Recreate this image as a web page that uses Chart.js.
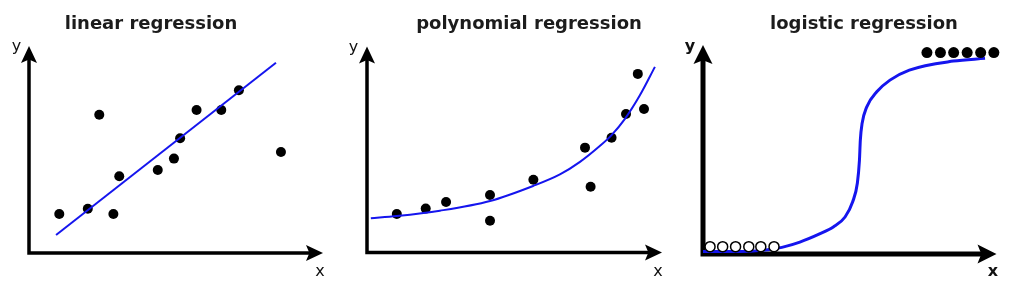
<!DOCTYPE html>
<html><head><meta charset="utf-8">
<script src="https://cdn.jsdelivr.net/npm/chart.js@4.4.1/dist/chart.umd.min.js"></script>
<style>
html,body{margin:0;padding:0;background:#fff;width:1017px;height:287px;overflow:hidden;position:relative}
canvas{position:absolute;top:0}
</style></head><body>
<canvas id="c1"></canvas><canvas id="c2"></canvas><canvas id="c3"></canvas>
<script>
// ---- titles ----
const titles = ['linear regression', 'polynomial regression', 'logistic regression'];
const axisLabels = ['x', 'y'];

// ---- linear regression ----
const linX = [1.03, 2.00, 2.39, 2.87, 3.07, 4.38, 4.93, 5.14, 5.70, 6.54, 7.14, 8.57];
const linY = [1.88, 2.14, 6.68, 1.88, 3.71, 4.01, 4.56, 5.54, 6.91, 6.91, 7.86, 4.88];
const linFitX = [0.92, 8.40];
const linFitY = [0.87, 9.19];

// ---- polynomial regression ----
const polyX = [1.01, 1.99, 2.68, 4.17, 4.17, 5.64, 7.39, 7.58, 8.29, 8.78, 9.18, 9.39];
const polyY = [1.87, 2.13, 2.45, 2.79, 1.54, 3.53, 5.09, 3.19, 5.57, 6.72, 8.67, 6.97];
const polyFitX = [0.13, 1.01, 2.47, 4.17, 5.63, 6.54, 7.22, 7.90, 8.29, 8.75, 9.25, 9.76];
const polyFitY = [1.66, 1.77, 2.03, 2.50, 3.23, 3.79, 4.40, 5.18, 5.70, 6.50, 7.63, 9.01];

// ---- logistic regression ----
const negX = [0.24, 0.67, 1.11, 1.56, 1.97, 2.42];
const negY = [0.35, 0.35, 0.35, 0.35, 0.35, 0.35];
const posX = [7.63, 8.09, 8.54, 9.00, 9.46, 9.91];
const posY = [9.64, 9.64, 9.64, 9.64, 9.64, 9.64];
const sigX = [0.00, 1.26, 2.51, 3.30, 3.99, 4.44, 4.84, 5.10, 5.26, 5.33, 5.36, 5.42, 5.58, 5.92, 6.37, 7.03, 8.53, 9.61];
const sigY = [0.12, 0.12, 0.27, 0.57, 0.97, 1.29, 1.77, 2.50, 3.40, 4.48, 5.44, 6.24, 7.04, 7.76, 8.32, 8.80, 9.23, 9.36];

const pts = (xs, ys) => xs.map((x, i) => ({x, y: ys[i]}));

const H = 287;
const BLUE = '#1515ee';

const arrowAxes = {
  id: 'arrowAxes',
  beforeDatasetsDraw(chart, args, o) {
    const {ctx, scales: {x, y}} = chart;
    const ox = x.getPixelForValue(0), oy = y.getPixelForValue(0);
    const tx = x.getPixelForValue(10), ty = y.getPixelForValue(10);
    const al = o.arrowLen, aw = o.arrowHalf;
    ctx.save();
    ctx.strokeStyle = '#000'; ctx.fillStyle = '#000';
    ctx.lineWidth = o.width; ctx.lineJoin = 'miter'; ctx.lineCap = 'butt';
    ctx.beginPath();
    ctx.moveTo(ox, ty + al * 0.7);
    ctx.lineTo(ox, oy);
    ctx.lineTo(tx - al * 0.7, oy);
    ctx.stroke();
    ctx.beginPath();
    ctx.moveTo(ox, ty); ctx.lineTo(ox + aw, ty + al); ctx.lineTo(ox, ty + al * 0.8); ctx.lineTo(ox - aw, ty + al);
    ctx.closePath(); ctx.fill();
    ctx.beginPath();
    ctx.moveTo(tx, oy); ctx.lineTo(tx - al, oy - aw); ctx.lineTo(tx - al * 0.8, oy); ctx.lineTo(tx - al, oy + aw);
    ctx.closePath(); ctx.fill();
    ctx.font = o.labelFont; ctx.fillStyle = '#111';
    ctx.textAlign = 'center'; ctx.textBaseline = 'alphabetic';
    ctx.fillText(axisLabels[1], ox + o.yDx, ty + o.yDy);
    ctx.fillText(axisLabels[0], tx + o.xDx, oy + o.xDy);
    ctx.restore();
  }
};

function makeChart(id, p, datasets) {
  const cv = document.getElementById(id);
  cv.width = p.W; cv.height = H;
  cv.style.left = p.L + 'px';
  const ppu = (p.xtip - p.x0) / 10;
  const xmin = (p.L - p.x0) / ppu, xmax = (p.L + p.W - p.x0) / ppu;
  new Chart(cv, {
    type: 'scatter',
    data: {datasets},
    options: {
      responsive: false, animation: false, events: [], clip: false,
      layout: {autoPadding: false, padding: {left: 0, right: 0, top: 0, bottom: H - p.y0}},
      scales: {
        x: {type: 'linear', display: false, min: xmin, max: xmax},
        y: {type: 'linear', display: false, min: 0, max: 10}
      },
      plugins: {
        legend: {display: false}, tooltip: {enabled: false},
        title: {
          display: true, text: p.title, color: '#1c1c1c',
          font: {family: 'DejaVu Sans', size: 18, weight: 'bold', lineHeight: 1.2},
          padding: {top: 13.2, bottom: p.ytip - 34.8}
        },
        arrowAxes: p.axes
      }
    },
    plugins: [arrowAxes]
  });
}

const dot = (data, r) => ({data, showLine: false, pointRadius: r, pointBackgroundColor: '#000', pointBorderWidth: 0, clip: false});
const curve = (data, w) => ({data, showLine: true, pointRadius: 0, borderColor: BLUE, borderWidth: w, cubicInterpolationMode: 'monotone', clip: false});

makeChart('c1', {L: -30, W: 362, x0: 29, xtip: 323, ytip: 46, y0: 253, title: titles[0],
  axes: {width: 3.5, arrowLen: 17, arrowHalf: 8, labelFont: '16px "DejaVu Sans"', yDx: -12.5, yDy: 5, xDx: -3, xDy: 23}},
  [curve(pts(linFitX, linFitY), 2), dot(pts(linX, linY), 5)]);

makeChart('c2', {L: 344, W: 370, x0: 367, xtip: 662, ytip: 46.5, y0: 252.5, title: titles[1],
  axes: {width: 3.5, arrowLen: 17, arrowHalf: 8, labelFont: '16px "DejaVu Sans"', yDx: -13.5, yDy: 5, xDx: -4, xDy: 23.5}},
  [curve(pts(polyFitX, polyFitY), 2), dot(pts(polyX, polyY), 5)]);

makeChart('c3', {L: 679, W: 370, x0: 703, xtip: 996.5, ytip: 45, y0: 254, title: titles[2],
  axes: {width: 5, arrowLen: 19, arrowHalf: 9.5, labelFont: 'bold 16px "DejaVu Sans"', yDx: -13, yDy: 6, xDx: -3.5, xDy: 22}},
  [dot(pts(posX, posY), 5.5),
   {data: pts(negX, negY), showLine: false, pointRadius: 5, pointBackgroundColor: '#fff', pointBorderColor: '#000', pointBorderWidth: 1.5, clip: false},
   curve(pts(sigX, sigY), 3)]);
</script>
</body></html>
